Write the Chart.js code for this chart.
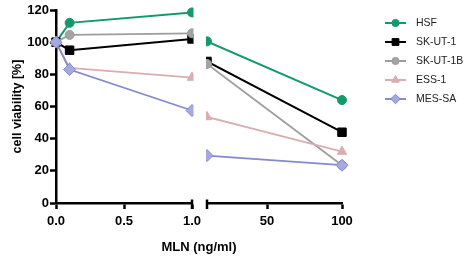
<!DOCTYPE html>
<html>
<head>
<meta charset="utf-8">
<script src="https://cdn.jsdelivr.net/npm/chart.js@4"></script>
<style>
  html, body { margin:0; padding:0; background:#fff; }
  #wrap { width:469px; height:262px; }
</style>
</head>
<body>
<div id="wrap"><canvas id="viab"></canvas></div>
<script>
// MLN doses (ng/ml); the x axis is broken between 1 and 10
const doses = [0, 0.1, 1, 10, 100];
const leftTicks = [0, 0.5, 1];
const rightTicks = [50, 100];
const xTitle = "MLN (ng/ml)";

const seriesNames = ["HSF", "SK-UT-1", "SK-UT-1B", "ESS-1", "MES-SA"];
const hsf     = [100, 112, 118.5, 100.5, 64];
const skut1   = [100, 95, 102, 88, 44];
const skut1b  = [100, 104.5, 105.5, 86.5, 23.5];
const ess1    = [100, 84, 78, 53.5, 32];
const messa   = [100, 83, 57.5, 29.5, 23.5];

const STYLE = {
  "HSF":      { color:"#13996a", fill:"#13996a", point:"circle",   r:4.5, order:4 },
  "SK-UT-1":  { color:"#000000", fill:"#000000", point:"rect",     r:6,   order:3 },
  "SK-UT-1B": { color:"#9d9d9d", fill:"#a3a3a3", point:"circle",   r:4.5, order:2 },
  "ESS-1":    { color:"#d9aeb0", fill:"#d9aeb0", point:"triangle", r:5.5, order:1 },
  "MES-SA":   { color:"#8589cf", fill:"#a5a9e0", point:"rectRot",  r:6,   order:0 }
};

const allValues = [hsf, skut1, skut1b, ess1, messa];
const FONT = "'Liberation Sans', Arial, sans-serif";

// each series is split over the two axis segments, the line runs into the gap and is cut there
const datasets = [];
seriesNames.forEach((name, i) => {
  const st = STYLE[name];
  const pts = doses.map((d, k) => ({ x:d, y:allValues[i][k] }));
  const common = {
    label: name,
    borderColor: st.color,
    backgroundColor: st.fill,
    pointBackgroundColor: st.fill,
    pointBorderColor: st.color,
    pointStyle: st.point,
    pointRadius: st.r,
    pointBorderWidth: 1,
    borderWidth: name === "SK-UT-1" || name === "HSF" ? 2 : 1.8,
    tension: 0,
    clip: false,
    order: st.order,
    yAxisID: "y"
  };
  datasets.push({ ...common, data: pts.slice(0, 4), xAxisID: "xl", segPart: "left" });
  datasets.push({ ...common, data: pts.slice(2), xAxisID: "xr", segPart: "right" });
});

// clip every dataset to its own axis segment
const segmentClip = {
  id: "segmentClip",
  beforeDatasetDraw(chart, args){
    const ds = chart.data.datasets[args.index];
    const xs = args.meta.xScale;
    const ctx = chart.ctx;
    ctx.save();
    ctx.beginPath();
    if (ds.segPart === "left") ctx.rect(0, 0, xs.right + 1.5, chart.height);
    else ctx.rect(xs.left - 1, 0, chart.width, chart.height);
    ctx.clip();
  },
  afterDatasetDraw(chart){
    chart.ctx.restore();
  }
};

// end caps at the axis break, x title across both pieces, legend with line and marker
const breakAndLegend = {
  id: "breakAndLegend",
  afterDraw(chart){
    const ctx = chart.ctx;
    const xl = chart.scales.xl, xr = chart.scales.xr;
    const yb = chart.chartArea.bottom;
    ctx.save();
    ctx.strokeStyle = "#000";
    ctx.lineWidth = 2.5;
    [xl.right, xr.left].forEach(x => {
      ctx.beginPath();
      ctx.moveTo(x, yb - 3.5);
      ctx.lineTo(x, yb + 6);
      ctx.stroke();
    });

    ctx.fillStyle = "#000";
    ctx.font = "bold 13px " + FONT;
    ctx.textAlign = "center";
    ctx.textBaseline = "middle";
    ctx.fillText(xTitle, (xl.left + xr.right) / 2, yb + 44);

    const lx = chart.chartArea.right + 43;
    seriesNames.forEach((name, i) => {
      const st = STYLE[name];
      const y = 23 + i * 19;
      ctx.strokeStyle = st.color;
      ctx.lineWidth = 2;
      ctx.beginPath();
      ctx.moveTo(lx, y);
      ctx.lineTo(lx + 21, y);
      ctx.stroke();
      ctx.fillStyle = st.fill;
      ctx.lineWidth = 1;
      Chart.helpers.drawPoint(ctx, { pointStyle: st.point, radius: st.r * 0.8, borderWidth: 1 }, lx + 10.5, y);
      ctx.fillStyle = "#222";
      ctx.font = "10.5px " + FONT;
      ctx.textBaseline = "middle";
      ctx.textAlign = "left";
      ctx.fillText(name, lx + 31, y + 0.5);
    });
    ctx.restore();
  }
};

const tickFont = { family: FONT, size: 13, weight: "bold" };
const axisGrid = { display: true, drawOnChartArea: false, drawTicks: true, tickLength: 6, color: "#000", tickWidth: 2.5 };
const axisBorder = { display: true, color: "#000", width: 2.5 };

new Chart(document.getElementById("viab"), {
  type: "line",
  data: { datasets },
  options: {
    responsive: true,
    maintainAspectRatio: false,
    animation: false,
    layout: { padding: { top: 10, right: 127, left: 0, bottom: 0 } },
    plugins: {
      legend: { display: false },
      tooltip: { enabled: false }
    },
    scales: {
      y: {
        type: "linear",
        position: "left",
        min: 0, max: 120,
        ticks: { stepSize: 20, color: "#000", font: tickFont, padding: 1 },
        grid: axisGrid,
        border: axisBorder,
        title: { display: true, text: "cell viability [%]", color: "#000",
                 font: { family: FONT, size: 12.5, weight: "bold" }, padding: { top: 10, bottom: 0 } },
        afterFit: s => { s.width = 56; }
      },
      xl: {
        type: "linear",
        position: "bottom",
        stack: "brk", stackWeight: 136,
        min: 0, max: 1,
        afterBuildTicks: s => { s.ticks = leftTicks.map(v => ({ value: v })); },
        ticks: { color: "#000", font: tickFont, padding: 5, callback: v => Number(v).toFixed(1) },
        grid: axisGrid,
        border: axisBorder,
        afterFit: s => { s.height = 59; }
      },
      // empty middle piece of the broken axis
      gap: {
        type: "linear",
        position: "bottom",
        stack: "brk", stackWeight: 15,
        min: 0, max: 1,
        ticks: { display: false },
        grid: { display: false },
        border: { display: false },
        afterFit: s => { s.height = 59; }
      },
      xr: {
        type: "linear",
        position: "bottom",
        stack: "brk", stackWeight: 135,
        min: 10, max: 100,
        afterBuildTicks: s => { s.ticks = rightTicks.map(v => ({ value: v })); },
        ticks: { color: "#000", font: tickFont, padding: 5 },
        grid: axisGrid,
        border: axisBorder,
        afterFit: s => { s.height = 59; }
      }
    }
  },
  plugins: [segmentClip, breakAndLegend]
});
</script>
</body>
</html>
